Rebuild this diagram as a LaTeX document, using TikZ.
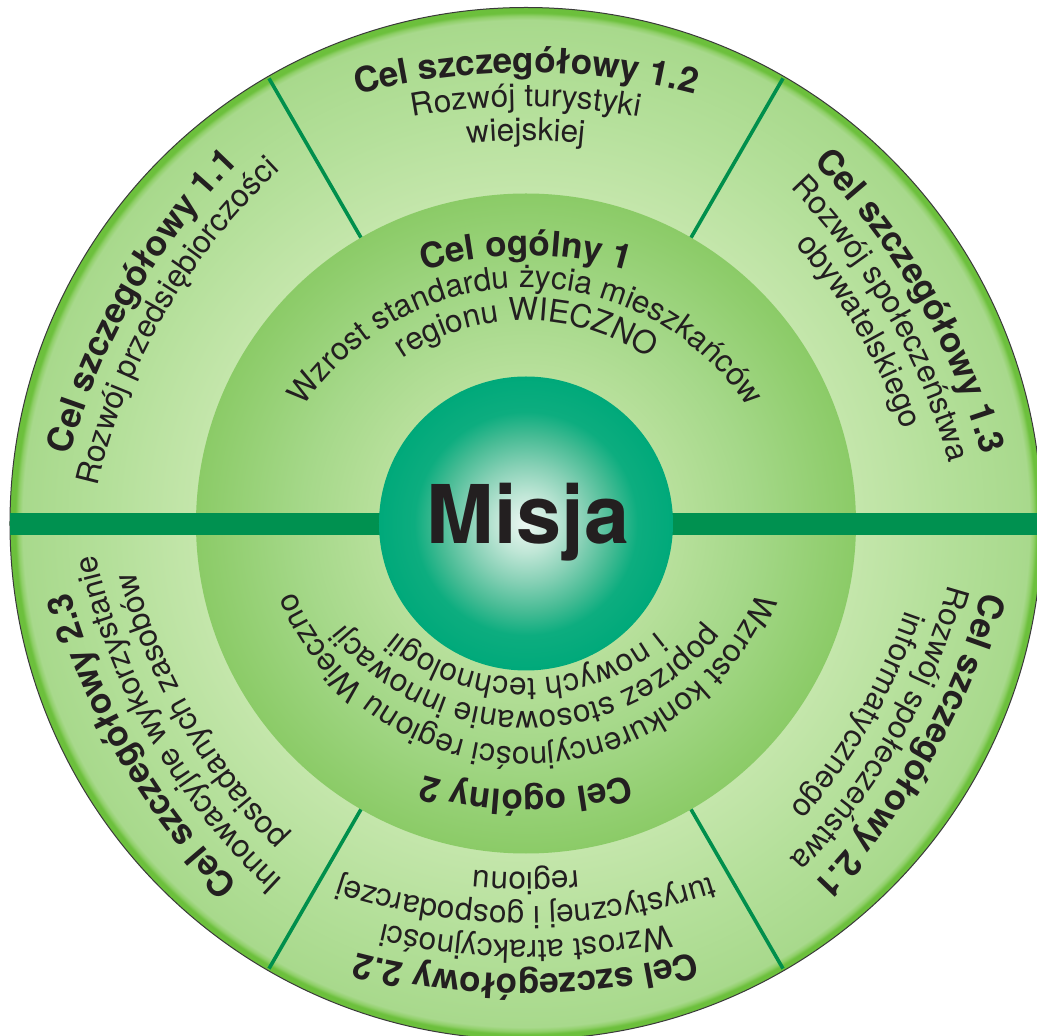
\documentclass[tikz,border=0pt]{standalone}
\usepackage{fontspec}
\setmainfont{TeX Gyre Heros}
\usetikzlibrary{decorations.text,calc}

\definecolor{txt}{HTML}{231F20}
\definecolor{bandgreen}{HTML}{009150}
\definecolor{divgreen}{HTML}{008F4C}
\definecolor{edgeline}{HTML}{3A3A3A}

\definecolor{oA}{HTML}{C4E6AB}
\definecolor{oB}{HTML}{B5E09B}
\definecolor{oC}{HTML}{A8D98C}
\definecolor{oD}{HTML}{8FCF68}
\definecolor{oE}{HTML}{6CC03C}

\definecolor{mA}{HTML}{C2E5A7}
\definecolor{mB}{HTML}{B8E09C}
\definecolor{mC}{HTML}{A5D889}
\definecolor{mD}{HTML}{8BCB67}

\definecolor{cA}{HTML}{EDF8F3}
\definecolor{cB}{HTML}{BFE6D6}
\definecolor{cC}{HTML}{86D0B5}
\definecolor{cD}{HTML}{46BB94}
\definecolor{cE}{HTML}{0DAD7F}
\definecolor{cF}{HTML}{00A97A}

% 25bp = radius of the shaded circle
\pgfdeclareradialshading{outersh}{\pgfpoint{0bp}{0bp}}{%
  color(0bp)=(oA); color(16bp)=(oA); color(20bp)=(oB);
  color(24.4bp)=(oC); color(24.6bp)=(oD); color(24.75bp)=(oE);
  color(50bp)=(oE)}
\pgfdeclareradialshading{middlesh}{\pgfpoint{0bp}{0bp}}{%
  color(0bp)=(mA); color(11bp)=(mB); color(17bp)=(mC);
  color(25bp)=(mD); color(50bp)=(mD)}
\pgfdeclareradialshading{centersh}{\pgfpoint{0bp}{0bp}}{%
  color(0bp)=(cA); color(5bp)=(cB); color(10bp)=(cC);
  color(15bp)=(cD); color(19bp)=(cE); color(25bp)=(cF);
  color(50bp)=(cF)}

\newcommand{\tfont}{\bfseries\fontsize{35}{35}\selectfont}
\newcommand{\rfont}{\fontsize{31.5}{31.5}\selectfont}

% #1 bisector angle, #2 baseline distance, #3 arc radius, #4 half angle, #5 font, #6 text
\newcommand{\arcline}[6]{%
  \path[decorate,decoration={text along path,text align=center,
      text color=txt,text={|#5|#6}}]
    ($({#1}:{#2-#3})+({#1+#4}:#3)$)
    arc[start angle={#1+#4},end angle={#1-#4},radius=#3];}

\newcommand{\sectortitle}[2]{\arcline{#1}{451}{660}{35}{\tfont}{#2}}
\newcommand{\sectorlineA}[2]{\arcline{#1}{417}{625}{35}{\rfont}{#2}}
\newcommand{\sectorlineB}[2]{\arcline{#1}{383}{600}{35}{\rfont}{#2}}
\newcommand{\sectorlineC}[2]{\arcline{#1}{349}{560}{35}{\rfont}{#2}}

\tikzset{
  divline/.style={draw=divgreen,line width=3.6pt},
  rimline/.style={draw=edgeline,line width=1pt},
}

\begin{document}
\begin{tikzpicture}[x=1pt,y=1pt]
\useasboundingbox (-526,-512.5) rectangle (511,523.5);

% outer ring
\shade[shading=outersh] (0,0) circle (516);
\draw[rimline] (0,0) circle (516);

% dividers of the outer ring
\foreach \a in {60,120,240,300}
  \draw[divline] (\a:328) -- (\a:514);

% middle ring
\shade[shading=middlesh] (0,0) circle (330);

% horizontal band
\begin{scope}
  \clip (0,0) circle (516);
  \fill[bandgreen] (-520,-11.5) rectangle (520,10.5);
\end{scope}

% centre
\shade[shading=centersh] (0,0) circle (147);
\node[font=\bfseries\fontsize{81}{81}\selectfont,text=txt,anchor=base,inner sep=0pt]
  (misja) at (2,-20.5) {Misja};

% general goal 1 (top half of middle ring)
\arcline{90}{268}{360}{70}{\tfont}{Cel ogólny 1}
\arcline{90}{236}{265}{85}{\rfont}{Wzrost standardu życia mieszkańców}
\arcline{90}{203}{220}{80}{\rfont}{regionu WIECZNO}

% general goal 2 (bottom half of middle ring)
\arcline{270}{267}{360}{70}{\tfont}{Cel ogólny 2}
\arcline{270}{224}{250}{85}{\rfont}{Wzrost konkurencyjności regionu Wieczno}
\arcline{270}{188}{232}{85}{\rfont}{poprzez stosowanie innowacji}
\arcline{270}{155}{205}{85}{\rfont}{i nowych technologii}

% 1.1
\sectortitle{150}{Cel szczegółowy 1.1}
\sectorlineA{150}{Rozwój przedsiębiorczości}
% 1.2
\sectortitle{90}{Cel szczegółowy 1.2}
\sectorlineA{90}{Rozwój turystyki}
\sectorlineB{90}{wiejskiej}
% 1.3
\sectortitle{30}{Cel szczegółowy 1.3}
\sectorlineA{30}{Rozwój społeczeństwa}
\sectorlineB{30}{obywatelskiego}
% 2.1
\sectortitle{330}{Cel szczegółowy 2.1}
\sectorlineA{330}{Rozwój społeczeństwa}
\sectorlineB{330}{informatycznego}
% 2.2
\sectortitle{270}{Cel szczegółowy 2.2}
\sectorlineA{270}{Wzrost atrakcyjności}
\sectorlineB{270}{turystycznej i gospodarczej}
\sectorlineC{270}{regionu}
% 2.3
\sectortitle{210}{Cel szczegółowy 2.3}
\sectorlineA{210}{Innowacyjne wykorzystanie}
\sectorlineB{210}{posiadanych zasobów}
\end{tikzpicture}
\end{document}
